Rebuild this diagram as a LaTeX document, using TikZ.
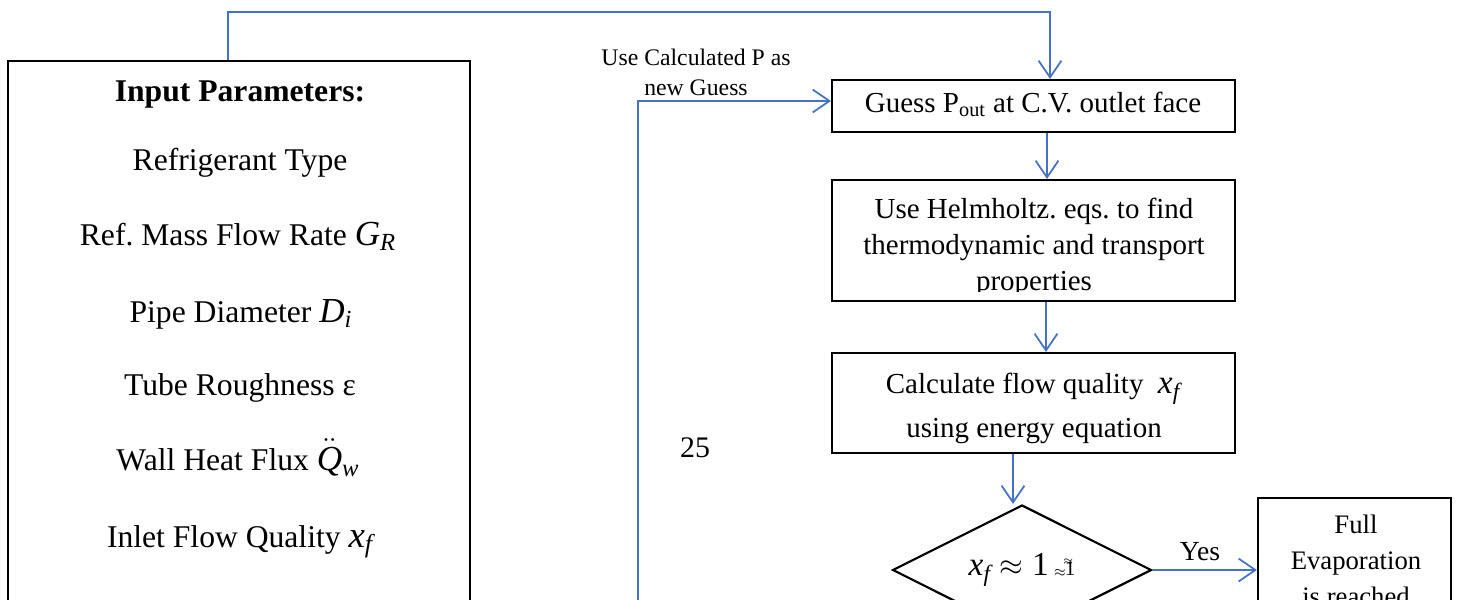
\documentclass[tikz,border=0pt]{standalone}
\usepackage{amsmath}
\usepackage{fontspec}
\setmainfont{Liberation Serif}
\usetikzlibrary{arrows.meta,shapes.geometric}
\definecolor{flowblue}{RGB}{68,114,196}
\frenchspacing
% italic variable with an italic subscript, set a little larger than the text
\newcommand\varsym[3]{{\fontsize{#1}{#1}\selectfont$\textit{#2}_{\textit{#3}}$}}
\begin{document}
\begin{tikzpicture}[x=0.02cm,y=-0.02cm,
  box/.style={draw=black,line width=1.25pt,rectangle,inner sep=0pt},
  decision/.style={draw=black,line width=1.25pt,diamond,inner sep=0pt,aspect=2,
    minimum width=5.18cm,minimum height=2.6cm},
  flow/.style={draw=flowblue,line width=1pt,
    -{Straight Barb[length=9.5pt,width=13pt,line width=1pt]}},
  txt/.style={anchor=base,inner sep=0pt},
  big/.style={txt,font=\fontsize{18}{21}\selectfont},
  mid/.style={txt,font=\fontsize{16.5}{19}\selectfont},
  note/.style={txt,font=\fontsize{13.5}{16}\selectfont},
  small/.style={txt,font=\fontsize{15.2}{18}\selectfont}]
\useasboundingbox (0,0) rectangle (1457,599);
\clip (0,0) rectangle (1457,599);

% input parameter panel
\node[box,minimum width=9.24cm,minimum height=11.8cm,anchor=north] (inputs) at (239,60) {};
\node[big] (inhead) at (240,101) {\bfseries Input Parameters:};
\node[big] (reftype) at (240,170) {Refrigerant Type};
\node[big] (mflow) at (238,245) {Ref. Mass Flow Rate \varsym{20}{G}{R}};
\node[big] (diam) at (241,322) {Pipe Diameter \varsym{20}{D}{i}};
\node[big] (rough) at (240,395) {Tube Roughness ε};
\node[big] (qflux) at (238,470) {Wall Heat Flux {\fontsize{20}{20}\selectfont$\ddot{\textit{Q}}_{\textit{w}}$}};
\node[big] (xin) at (240,547) {Inlet Flow Quality \varsym{21}{x}{f}};

% iteration boxes
\node[box,minimum width=8.06cm,minimum height=1.04cm] (guess) at (1033.5,106) {};
\node[mid] (guesstxt) at (1033,112) {Guess P\textsubscript{out} at C.V. outlet face};

\node[box,minimum width=8.06cm,minimum height=2.42cm] (helm) at (1033.5,240.5) {};
\begin{scope}
  \clip (832,180) rectangle (1235,291);
  \node[mid] (helm1) at (1034,218) {Use Helmholtz. eqs. to find};
  \node[mid] (helm2) at (1034,254) {thermodynamic and transport};
  \node[mid] (helm3) at (1034,290) {properties};
\end{scope}

\node[box,minimum width=8.06cm,minimum height=2cm] (calc) at (1033.5,403) {};
\node[mid] (calc1) at (1033,393) {Calculate flow quality \ \varsym{19}{x}{f}};
\node[mid] (calc2) at (1034,437) {using energy equation};

\node[decision] (test) at (1022,570) {};
\node[mid] (testtxt) at (1022,575) {\varsym{19}{x}{f}\hspace{5pt}{\fontsize{18}{18}\selectfont$\approx$}\hspace{5pt}{\fontsize{19}{19}\selectfont 1}\hspace{3pt}\raisebox{-1pt}{\fontsize{8}{8}\selectfont$\approx$}\hspace{-0.5pt}\rlap{\hspace{-1pt}\raisebox{6pt}{\fontsize{6}{6}\selectfont$\approx$}}{\fontsize{12}{12}\selectfont 1}};

\node[box,minimum width=3.86cm,minimum height=3cm,anchor=north] (full) at (1354.5,497) {};
\node[small] (full1) at (1356,533) {Full};
\node[small] (full2) at (1356,569) {Evaporation};
\node[small] (full3) at (1356,605) {is reached};

% free texts
\node[note] (loop1) at (696,65) {Use Calculated P as};
\node[note] (loop2) at (696,95) {new Guess};
\node[txt,font=\fontsize{17}{20}\selectfont] (page) at (695,457) {25};
\node[txt,font=\fontsize{15.7}{18}\selectfont] (yes) at (1200,560) {Yes};

% connectors
\coordinate (topL) at (228,12);
\coordinate (topR) at (1050,12);
\draw[flow] (inputs.north -| topL) -- (topL) -- (topR) -- (guess.north -| topR);

\coordinate (spine) at (1047,0);
\draw[flow] (guess.south -| spine) -- (helm.north -| spine);
\coordinate (spineb) at (1046,0);
\draw[flow] (helm.south -| spineb) -- (calc.north -| spineb);
\coordinate (spinec) at (1013,0);
\draw[flow] (calc.south -| spinec) -- (spinec |- test.north);

\draw[flow] (test.east) -- (test.east -| full.west);

\coordinate (loopB) at (638,640);
\coordinate (loopT) at (638,101);
\draw[flow] (loopB) -- (loopT) -- (loopT -| guess.west);
\end{tikzpicture}
\end{document}
